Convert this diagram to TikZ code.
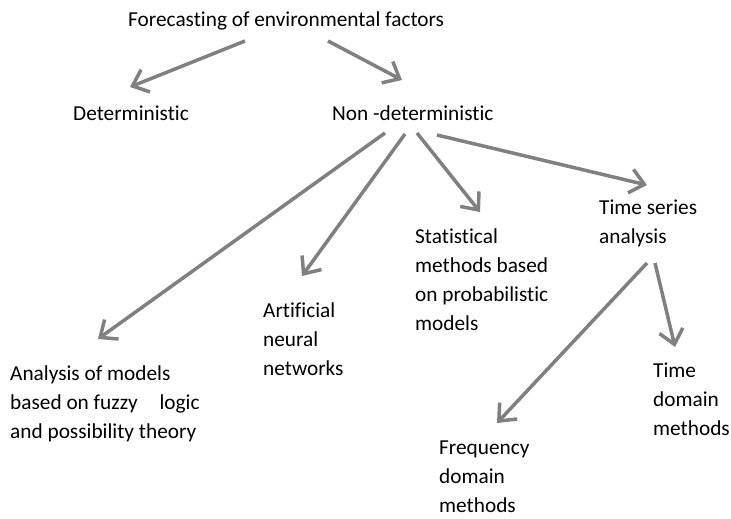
\documentclass[tikz,border=0pt]{standalone}
\usepackage{fontspec}
\setmainfont[Ligatures=NoCommon]{Carlito}
\usetikzlibrary{arrows.meta,positioning,calc}
\definecolor{arrowgray}{RGB}{128,128,128}
\tikzset{
    term/.style={anchor=base west,inner sep=0pt,align=left,font=\fontsize{21.3}{28.7}\selectfont},
    branch/.style={draw=arrowgray,line width=3.5pt,-{Straight Barb[length=14pt,width=24pt]}}
}

\begin{document}
\begin{tikzpicture}[x=1pt,y=-1pt]
\useasboundingbox (0,0) rectangle (731,519);
% levels of the tree (base = last line)
\node[term] (forecast) at (128,26.7) {Forecasting of environmental factors};
\node[term] (determ) at (73,120) {Deterministic};
\node[term] (nondet) at (332,120) {Non -deterministic};
\node[term] (fuzzy) at (10,438) {Analysis of models\\based on fuzzy\hspace{17pt} logic\\and possibility theory};
\node[term] (neural) at (263,375) {Artificial\\neural\\networks};
\node[term] (stat) at (415,330) {Statistical\\methods based\\on probabilistic\\models};
\node[term] (series) at (599,243) {Time series\\analysis};
\node[term] (freq) at (439,512) {Frequency\\domain\\methods};
\node[term] (timedom) at (653,435) {Time\\domain\\methods};
% arrows
\draw[branch] ([shift={(117,14.3)}]forecast.base west)--([shift={(57,-33)}]determ.base west);
\draw[branch] ([shift={(200,14.3)}]forecast.base west)--([shift={(70,-40)}]nondet.base west);
\draw[branch] ([shift={(53,13)}]nondet.base west)--([shift={(88,-99)}]fuzzy.base west);
\draw[branch] ([shift={(73,14)}]nondet.base west)--([shift={(39,-99)}]neural.base west);
\draw[branch] ([shift={(85,13)}]nondet.base west)--([shift={(65,-118)}]stat.base west);
\draw[branch] ([shift={(105,15)}]nondet.base west)--([shift={(48,-58)}]series.base west);
\draw[branch] ([shift={(48,20)}]series.base west)--([shift={(58,-89)}]freq.base west);
\draw[branch] ([shift={(56,20)}]series.base west)--([shift={(22,-88)}]timedom.base west);
\end{tikzpicture}
\end{document}
